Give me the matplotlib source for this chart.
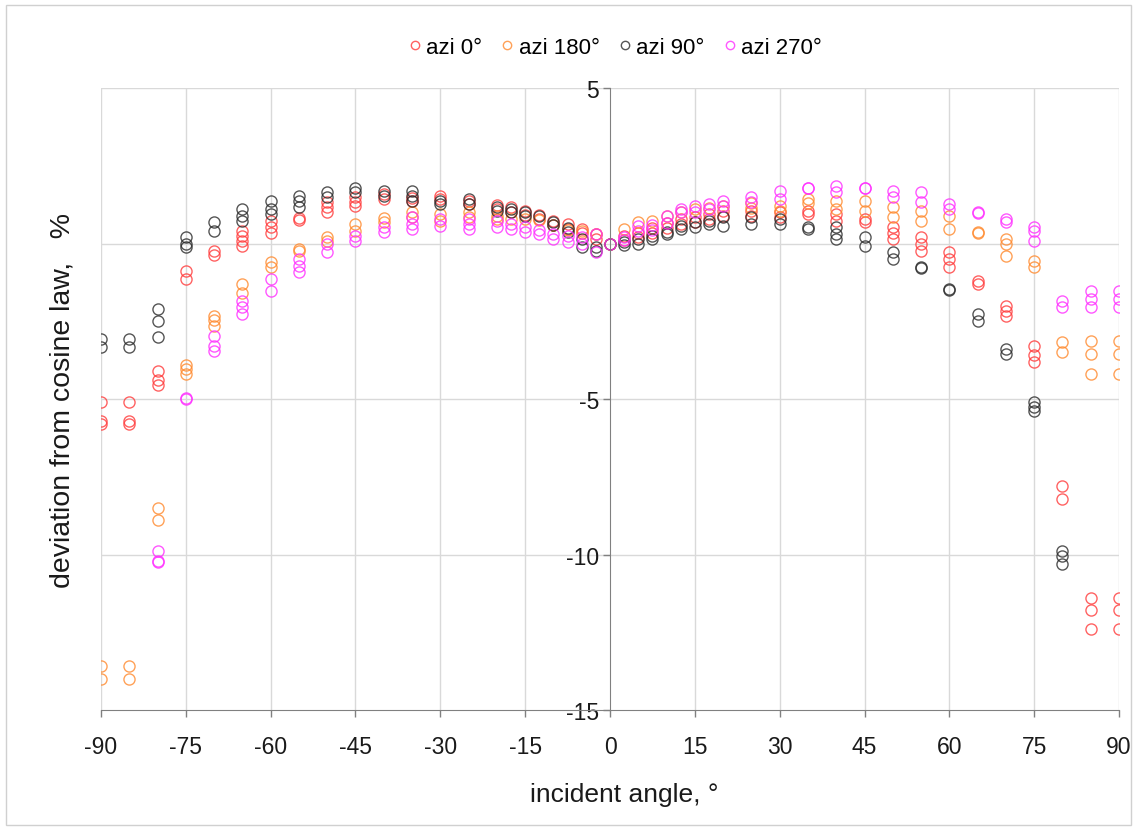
import matplotlib.pyplot as plt
from matplotlib.patches import Rectangle

plt.rcParams['font.family'] = ['Liberation Sans', 'DejaVu Sans']

# azi 0 deg
x_azi0 = [-90, -90, -90, -85, -85, -85, -80, -80, -80, -75, -75, -70, -70,
          -65, -65, -65, -65, -60, -60, -60, -55, -55, -50, -50, -50,
          -45, -45, -45, -40, -40, -35, -35, -30, -30, -25, -25,
          -20, -20, -17.5, -17.5, -15, -15, -12.5, -12.5, -10, -10, -7.5, -7.5,
          -5, -5, -2.5, -2.5, 0,
          2.5, 2.5, 5, 5, 7.5, 7.5, 10, 10, 12.5, 12.5, 15, 15, 17.5, 17.5, 20, 20,
          25, 25, 30, 30, 35, 35, 40, 40, 45, 45, 50, 50, 50, 55, 55, 55,
          60, 60, 60, 65, 65, 70, 70, 70, 75, 75, 75, 80, 80, 85, 85, 85, 90, 90, 90]
y_azi0 = [-5.1, -5.7, -5.8, -5.1, -5.7, -5.8, -4.1, -4.4, -4.55, -0.88, -1.14, -0.24, -0.37,
          0.4, 0.24, 0.08, -0.08, 0.72, 0.53, 0.35, 0.82, 0.75, 1.33, 1.17, 1.0,
          1.5, 1.33, 1.2, 1.6, 1.43, 1.45, 1.37, 1.53, 1.43, 1.38, 1.27,
          1.25, 1.12, 1.17, 1.02, 1.05, 0.92, 0.92, 0.78, 0.72, 0.6, 0.62, 0.48,
          0.48, 0.35, 0.3, 0.15, 0.0,
          0.25, 0.12, 0.35, 0.22, 0.5, 0.35, 0.65, 0.5, 0.78, 0.62, 0.85, 0.7, 0.95, 0.8, 1.05, 0.9,
          1.05, 0.88, 1.0, 0.85, 1.05, 0.95, 0.95, 0.72, 0.79, 0.7, 0.53, 0.35, 0.15, 0.2, 0.0, -0.24,
          -0.27, -0.5, -0.75, -1.2, -1.3, -2.0, -2.17, -2.33, -3.3, -3.6, -3.8, -7.8, -8.2,
          -11.4, -11.8, -12.4, -11.4, -11.8, -12.4]

# azi 180 deg
x_azi180 = [-90, -90, -85, -85, -80, -80, -75, -75, -75, -70, -70, -70, -65, -65,
            -60, -60, -55, -55, -50, -50, -45, -45, -40, -40, -35, -35, -30, -30,
            -25, -25, -20, -20, -17.5, -15, -12.5, -10, -7.5, -5, -2.5, 0,
            2.5, 5, 7.5, 10, 12.5, 15, 17.5, 20, 25, 25, 30, 30, 35, 35, 40, 40, 45, 45,
            50, 50, 55, 55, 60, 60, 65, 65, 70, 70, 70, 75, 75, 80, 80, 85, 85, 85, 90, 90, 90]
y_azi180 = [-13.6, -14.0, -13.6, -14.0, -8.5, -8.9, -3.9, -4.05, -4.2, -2.33, -2.65, -2.45, -1.3, -1.6,
            -0.6, -0.75, -0.18, -0.25, 0.2, 0.08, 0.63, 0.4, 0.82, 0.7, 1.0, 0.85, 0.95, 0.72,
            1.0, 0.85, 0.9, 0.8, 0.8, 0.8, 0.75, 0.6, 0.45, 0.4, 0.3, 0.0,
            0.47, 0.7, 0.72, 0.9, 1.0, 1.1, 1.15, 1.2, 1.3, 1.15, 1.2, 1.05, 1.43, 1.3, 1.37, 1.1, 1.37, 1.05,
            1.17, 0.85, 1.05, 0.72, 0.9, 0.47, 0.37, 0.33, 0.15, 0.0, -0.4, -0.56, -0.75, -3.17, -3.5,
            -3.13, -3.55, -4.2, -3.13, -3.55, -4.2]

# azi 90 deg
x_azi90 = [-90, -90, -85, -85, -80, -80, -80, -75, -75, -75, -70, -70,
           -65, -65, -65, -60, -60, -60, -55, -55, -55, -50, -50, -45, -45,
           -40, -40, -35, -35, -35, -30, -30, -25, -25, -20, -20, -17.5, -17.5,
           -15, -15, -12.5, -10, -10, -7.5, -7.5, -5, -5, -2.5, -2.5, 0,
           2.5, 2.5, 5, 5, 7.5, 7.5, 10, 10, 12.5, 12.5, 15, 15, 17.5, 17.5, 20, 20,
           25, 25, 30, 30, 35, 35, 40, 40, 40, 45, 45, 50, 50, 55, 55, 60, 60,
           65, 65, 70, 70, 75, 75, 75, 80, 80, 80]
y_azi90 = [-3.07, -3.33, -3.07, -3.33, -2.1, -2.5, -3.0, 0.2, 0.0, -0.1, 0.69, 0.4,
           1.1, 0.88, 0.72, 1.37, 1.1, 0.95, 1.53, 1.37, 1.17, 1.65, 1.5, 1.8, 1.65,
           1.7, 1.53, 1.7, 1.53, 1.37, 1.37, 1.27, 1.43, 1.27, 1.17, 1.05, 1.12, 1.02,
           1.0, 0.9, 0.88, 0.7, 0.6, 0.5, 0.37, 0.15, -0.1, -0.1, -0.25, 0.0,
           0.05, -0.05, 0.15, 0.0, 0.25, 0.15, 0.37, 0.3, 0.56, 0.47, 0.7, 0.53, 0.72, 0.63, 0.85, 0.56,
           0.85, 0.63, 0.79, 0.63, 0.53, 0.48, 0.53, 0.3, 0.15, 0.2, -0.08, -0.27, -0.5, -0.75, -0.8, -1.46, -1.5,
           -2.27, -2.5, -3.4, -3.55, -5.1, -5.25, -5.4, -9.9, -10.05, -10.3]

# azi 270 deg
x_azi270 = [-80, -80, -80, -75, -75, -70, -70, -70, -65, -65, -65, -60, -60,
            -55, -55, -55, -50, -50, -45, -45, -40, -40, -35, -35, -35, -30, -30,
            -25, -25, -25, -20, -20, -17.5, -17.5, -15, -15, -12.5, -12.5, -10, -10,
            -7.5, -7.5, -5, -5, -2.5, -2.5, 0,
            2.5, 2.5, 5, 5, 7.5, 7.5, 10, 10, 12.5, 12.5, 15, 15, 17.5, 17.5, 20, 20,
            25, 25, 30, 30, 35, 35, 40, 40, 45, 45, 50, 50, 55, 55, 60, 60, 65, 65,
            70, 70, 75, 75, 75, 80, 80, 85, 85, 85, 90, 90, 90]
y_azi270 = [-9.9, -10.2, -10.25, -4.97, -5.0, -2.97, -3.3, -3.45, -1.85, -2.05, -2.27, -1.14, -1.53,
            -0.5, -0.72, -0.92, 0.0, -0.27, 0.24, 0.08, 0.53, 0.37, 0.85, 0.63, 0.47, 0.79, 0.56,
            0.79, 0.63, 0.47, 0.72, 0.53, 0.63, 0.47, 0.53, 0.37, 0.45, 0.3, 0.3, 0.15,
            0.25, 0.05, 0.2, 0.0, 0.3, -0.27, 0.0,
            0.2, 0.1, 0.56, 0.4, 0.6, 0.45, 0.9, 0.65, 1.1, 1.0, 1.2, 1.0, 1.27, 1.1, 1.37, 1.2,
            1.5, 1.33, 1.7, 1.43, 1.8, 1.78, 1.85, 1.65, 1.8, 1.78, 1.7, 1.5, 1.65, 1.33, 1.27, 1.1, 1.0, 0.98,
            0.79, 0.7, 0.53, 0.4, 0.08, -1.85, -2.05, -1.53, -1.78, -2.05, -1.53, -1.78, -2.05]

x_ticks = [-90, -75, -60, -45, -30, -15, 0, 15, 30, 45, 60, 75, 90]
y_ticks = [5, -5, -10, -15]

fig = plt.figure(figsize=(11.37, 8.28), dpi=100)
ax = fig.add_axes([0.0888, 0.1413, 0.8954, 0.7512])

# thin frame round the whole chart
fig.patches.append(Rectangle((0.005, 0.003), 0.99, 0.99, transform=fig.transFigure,
                             fill=False, edgecolor='#d0d0d0', linewidth=1))

series = [
    (x_azi0, y_azi0, '#ff3b3b', 'azi 0°'),
    (x_azi180, y_azi180, '#ff8a2e', 'azi 180°'),
    (x_azi90, y_azi90, '#2b2b2b', 'azi 90°'),
    (x_azi270, y_azi270, '#ff2eff', 'azi 270°'),
]
for xs, ys, col, lab in series:
    ax.plot(xs, ys, linestyle='none', marker='o', markersize=8, markerfacecolor='none',
            markeredgecolor=col, markeredgewidth=1.0, alpha=0.8, label=lab)

ax.set_xlim(-90, 90)
ax.set_ylim(-15, 5)

# grid lines
for gx in x_ticks:
    if gx != 0:
        ax.axvline(gx, color='#d9d9d9', linewidth=1, zorder=0)
for gy in [5, 0, -5, -10]:
    ax.axhline(gy, color='#d9d9d9', linewidth=1, zorder=0)

for s in ['top', 'right']:
    ax.spines[s].set_visible(False)
ax.spines['left'].set_position(('data', 0))
ax.spines['left'].set_color('#808080')
ax.spines['bottom'].set_color('#808080')

ax.set_xticks(x_ticks)
ax.set_xticklabels([str(t) for t in x_ticks])
ax.set_yticks(y_ticks)
ax.set_yticklabels([str(t) for t in y_ticks])
ax.tick_params(axis='both', labelsize=16.5, colors='#808080', labelcolor='#1a1a1a', length=5, width=1)
ax.tick_params(axis='x', pad=13)
ax.tick_params(axis='y', pad=3)

ax.set_xlabel('incident angle, °', fontsize=19, color='#1a1a1a', va='center')
ax.xaxis.set_label_coords(0.514, -0.135)
ax.set_ylabel('deviation from cosine law,   %', fontsize=20.5, color='#1a1a1a')
ax.yaxis.set_label_coords(-0.025, 0.5)

leg = fig.legend(loc='center', bbox_to_anchor=(0.54, 0.942), ncol=4, frameon=False,
                 fontsize=16, handlelength=0.8, handletextpad=0.1, columnspacing=0.75,
                 markerscale=0.75)

plt.savefig('out.png', dpi=100)
